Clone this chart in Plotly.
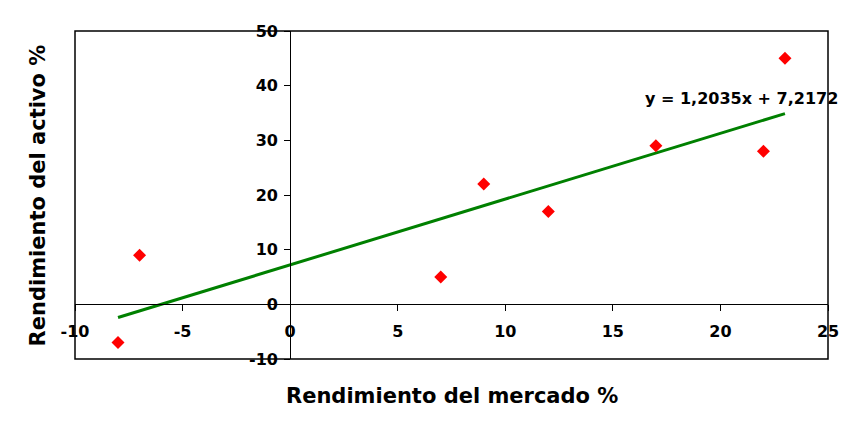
import numpy as np
import plotly.graph_objects as go

# Data
mercado = [-8, -7, 7, 9, 12, 17, 22, 23]
activo = [-7, 9, 5, 22, 17, 29, 28, 45]
x_ticks = [-10, -5, 0, 5, 10, 15, 20, 25]
x_tick_labels = ["-10", "-5", "0", "5", "10", "15", "20", "25"]
y_ticks = [-10, 0, 10, 20, 30, 40, 50]
y_tick_labels = ["-10", "0", "10", "20", "30", "40", "50"]
x_title = "Rendimiento del mercado %"
y_title = "Rendimiento del activo %"

slope, intercept = np.polyfit(mercado, activo, 1)
xl = np.array([min(mercado), max(mercado)])
yl = slope * xl + intercept
eq_text = ("y = %.4fx + %.4f" % (slope, intercept)).replace(".", ",")

FONT = "DejaVu Sans"

fig = go.Figure()
fig.add_trace(go.Scatter(x=xl, y=yl, mode="lines",
                         line=dict(color="#008000", width=3), hoverinfo="skip"))
fig.add_trace(go.Scatter(x=mercado, y=activo, mode="markers",
                         marker=dict(symbol="diamond", size=10, color="#FF0000",
                                     line=dict(width=0))))

xr = [-10, 25]
yr = [-10, 50]
fig.update_layout(
    width=864, height=432,
    margin=dict(l=67, r=44, t=23, b=81),
    paper_bgcolor="white", plot_bgcolor="white",
    showlegend=False,
    font=dict(family=FONT, color="black"),
    xaxis=dict(range=xr, tickvals=x_ticks, ticktext=x_tick_labels,
               showgrid=False, zeroline=False, automargin=False,
               showline=True, linecolor="black", linewidth=1,
               ticks="outside", ticklen=6, tickcolor="black",
               tickfont=dict(family=FONT, size=16, color="black", weight="bold"),
               anchor="free", position=(0 - yr[0]) / (yr[1] - yr[0]),
               ticklabelstandoff=6),
    yaxis=dict(range=yr, tickvals=y_ticks, ticktext=y_tick_labels,
               showgrid=False, zeroline=False, automargin=False,
               showline=True, linecolor="black", linewidth=1,
               ticks="outside", ticklen=6, tickcolor="black",
               tickfont=dict(family=FONT, size=16, color="black", weight="bold"),
               anchor="free", position=(0 - xr[0]) / (xr[1] - xr[0]),
               ticklabelstandoff=3),
    shapes=[dict(type="rect", xref="paper", yref="paper", x0=0, y0=0, x1=1, y1=1,
                 line=dict(color="black", width=1.5), layer="above")],
    annotations=[
        dict(text=x_title, xref="paper", yref="paper", x=0.5, y=-0.07,
             xanchor="center", yanchor="top", showarrow=False,
             font=dict(family=FONT, size=21, color="black", weight="bold")),
        dict(text=y_title, xref="paper", yref="paper", x=-0.03, y=0.5,
             xanchor="right", yanchor="middle", textangle=-90, showarrow=False,
             font=dict(family=FONT, size=21, color="black", weight="bold")),
        dict(text=eq_text, xref="x", yref="y", x=16.4, y=37.6,
             xanchor="left", yanchor="middle", showarrow=False,
             font=dict(family=FONT, size=16, color="black", weight="bold")),
    ],
)
fig.write_html("out.html")
